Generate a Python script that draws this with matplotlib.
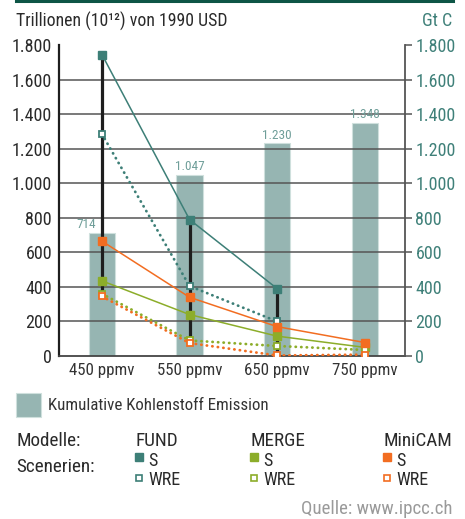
import numpy as np
import matplotlib.pyplot as plt
from matplotlib.ticker import FuncFormatter

plt.rcParams['font.family'] = ['Roboto Condensed', 'DejaVu Sans']

# Daten
konz = ['450 ppmv', '550 ppmv', '650 ppmv', '750 ppmv']
emission = [714, 1047, 1230, 1348]
emission_lbl = ['714', '1.047', '1.230', '1.348']
fund_s = [1745, 790, 390, np.nan]
fund_wre = [1285, 405, 200, np.nan]
merge_s = [435, 240, 115, 50]
merge_wre = [360, 90, 58, 35]
minicam_s = [665, 340, 170, 78]
minicam_wre = [345, 75, 3, 8]

c_fund = '#3d7f77'
c_merge = '#8cad2a'
c_mini = '#f26d21'
c_bar = '#96b5b2'
c_dark = '#2a2a2a'

fmt = FuncFormatter(lambda v, p: f'{v:,.0f}'.replace(',', '.'))

fig = plt.figure(figsize=(4.65, 5.19), dpi=100)
ax = fig.add_axes([59/465, 1-356/519, (405-59)/465, (356-45)/519])
ax2 = ax.twinx()

x = np.arange(len(konz))
alle = np.array([fund_s, fund_wre, merge_s, merge_wre, minicam_s, minicam_wre])
hoch = np.nanmax(alle, axis=0)
tief = np.nanmin(alle, axis=0)

# Balken (rechte Achse, Gt C)
ax.bar(x, emission, width=0.3, color=c_bar, edgecolor='#cfe0dd', linewidth=0.8, zorder=1)
for xi, v, t, h in zip(x, emission, emission_lbl, hoch):
    dx = -0.18 if h > v else 0  # Beschriftung neben die Spannweite schieben
    ax.text(xi + dx, v + 10, t, ha='center', va='bottom', fontsize=9.5, color='#6f9e99', zorder=5)

for v in range(200, 1800, 200):
    ax.axhline(v, color='#555555', lw=1.1, zorder=2)

# Spannweite
ax.vlines(x, tief, hoch, color='#1e1e1e', lw=2.3, zorder=3)

serien = [(fund_s, c_fund, False), (fund_wre, c_fund, True),
          (merge_s, c_merge, False), (merge_wre, c_merge, True),
          (minicam_s, c_mini, False), (minicam_wre, c_mini, True)]
for werte, col, wre in serien:
    if wre:
        ax.plot(x, werte, color=col, lw=2, ls=(0, (0.1, 1.9)), dash_capstyle='round', zorder=4)
        ax.plot(x, werte, ls='none', marker='s', ms=5, mfc='white', mec=col, mew=1.3, zorder=6)
    else:
        ax.plot(x, werte, color=col, lw=1.1, zorder=4)
        ax.plot(x, werte, ls='none', marker='s', ms=6, mfc=col, mec=col, zorder=6)

ax.set_xlim(-0.49, 3.46)
ax.set_ylim(0, 1800)
ax2.set_ylim(0, 1800)
ax.set_xticks(x)
ax.set_xticklabels(konz, fontsize=12.2, color='#333333')
ax.tick_params(axis='x', length=0, pad=5)
ax.set_yticks(range(0, 1801, 200))
ax.yaxis.set_major_formatter(fmt)
ax.tick_params(axis='y', length=0, labelsize=13, labelcolor=c_dark, pad=5)
ax2.set_yticks(range(0, 1801, 200))
ax2.yaxis.set_major_formatter(fmt)
ax2.tick_params(axis='y', length=5, width=1.1, color='#555555', labelsize=13, labelcolor='#3f8079', pad=2.5)

for a in (ax, ax2):
    a.spines['top'].set_visible(False)
ax.spines['right'].set_visible(False)
ax.spines['left'].set_linewidth(1.6)
ax.spines['left'].set_color('#1e1e1e')
ax.spines['bottom'].set_color('#444444')
ax.spines['bottom'].set_linewidth(1.3)
ax2.spines['left'].set_visible(False)
ax2.spines['bottom'].set_visible(False)
ax2.spines['right'].set_color('#555555')
ax2.spines['right'].set_linewidth(1.3)

# Kopf, Legende, Quelle in Pixelkoordinaten
lg = fig.add_axes([0, 0, 1, 1], zorder=-1)
lg.set_xlim(0, 465)
lg.set_ylim(519, 0)
lg.axis('off')
lg.plot([16, 453], [1, 1], color='#0d5546', lw=2.2)
lg.text(16, 21, 'Trillionen (10¹²) von 1990 USD', fontsize=12.8, color=c_dark, va='center')
lg.text(452, 21, 'Gt C', fontsize=13, color='#3f8079', va='center', ha='right')

lg.add_patch(plt.Rectangle((16, 393), 25, 24, facecolor=c_bar, edgecolor='#cfe0dd', lw=0.8))
lg.text(48, 405, 'Kumulative Kohlenstoff Emission', fontsize=12.2, color='#333333', va='center')
lg.text(16, 441, 'Modelle:', fontsize=13.8, color=c_dark, va='center')
lg.text(16, 467, 'Scenerien:', fontsize=13.8, color=c_dark, va='center')
for mx, name, col in [(135, 'FUND', c_fund), (250, 'MERGE', c_merge), (383, 'MiniCAM', c_mini)]:
    lg.text(mx, 441, name, fontsize=13.8, color=c_dark, va='center')
    lg.plot(mx + 3.5, 456.5, marker='s', ms=5.5, color=col)
    lg.text(mx + 13, 461, 'S', fontsize=13, color=c_dark, va='center')
    lg.plot(mx + 3.5, 477.5, marker='s', ms=4.5, mfc='white', mec=col, mew=1.2)
    lg.text(mx + 13, 480, 'WRE', fontsize=13, color=c_dark, va='center')
lg.text(452, 509, 'Quelle: www.ipcc.ch', fontsize=13.6, color='#9a9a9a', va='center', ha='right')

fig.savefig('out.png', dpi=100)
